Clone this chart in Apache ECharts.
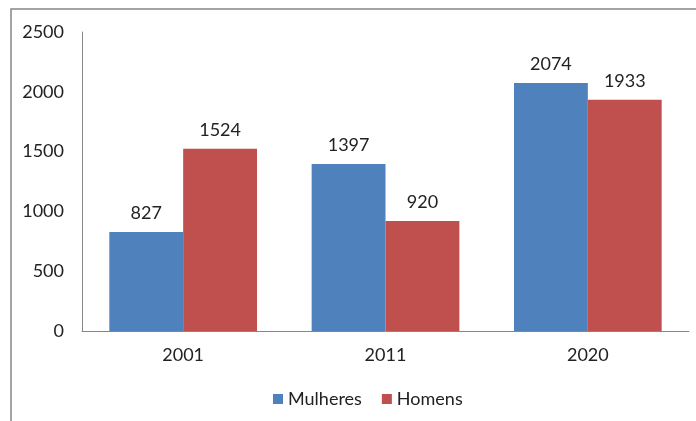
<!DOCTYPE html>
<html><head><meta charset="utf-8">
<script src="https://cdn.jsdelivr.net/npm/echarts@6/dist/echarts.min.js"></script>
<style>html,body{margin:0;padding:0;background:#fff}#c{width:696px;height:421px}</style>
</head><body><div id="c"></div>
<script>
const categories = ['2001', '2011', '2020'];
const mulheres = [827, 1397, 2074];
const homens = [1524, 920, 1933];
const yTicks = [0, 500, 1000, 1500, 2000, 2500];

const font = 'Lato, "Open Sans", sans-serif';
const fs = 18;
const chart = echarts.init(document.getElementById('c'));
chart.setOption({
  animation: false,
  textStyle: { fontFamily: font },
  graphic: [{
    type: 'polyline',
    shape: { points: [[11, 421], [11, 9], [696, 9]] },
    style: { stroke: '#868686', lineWidth: 1.5, fill: null }
  }],
  grid: { left: 82, right: 7, top: 32, bottom: 90 },
  legend: {
    bottom: 8, left: 268, itemWidth: 10, itemHeight: 10, itemGap: 20,
    icon: 'rect',
    textStyle: { fontSize: fs, color: '#222', fontFamily: font },
    data: ['Mulheres', 'Homens']
  },
  xAxis: {
    type: 'category', data: categories,
    axisLine: { lineStyle: { color: '#868686', width: 1 } },
    axisTick: { show: false },
    axisLabel: { fontSize: fs, color: '#222', margin: 15 }
  },
  yAxis: {
    type: 'value', min: yTicks[0], max: yTicks[yTicks.length - 1], interval: 500,
    axisLine: { show: true, lineStyle: { color: '#868686', width: 1 } },
    axisTick: { show: false },
    splitLine: { show: false },
    axisLabel: { fontSize: fs, color: '#222', margin: 18, formatter: v => String(v) }
  },
  series: [
    { name: 'Mulheres', type: 'bar', data: mulheres, barGap: '0%', barCategoryGap: '27%',
      itemStyle: { color: '#4F81BD' },
      label: { show: true, position: 'top', distance: 10, fontSize: fs, color: '#222' } },
    { name: 'Homens', type: 'bar', data: homens, barGap: '0%', barCategoryGap: '27%',
      itemStyle: { color: '#C0504D' },
      label: { show: true, position: 'top', distance: 10, fontSize: fs, color: '#222' } }
  ]
});
</script></body></html>
